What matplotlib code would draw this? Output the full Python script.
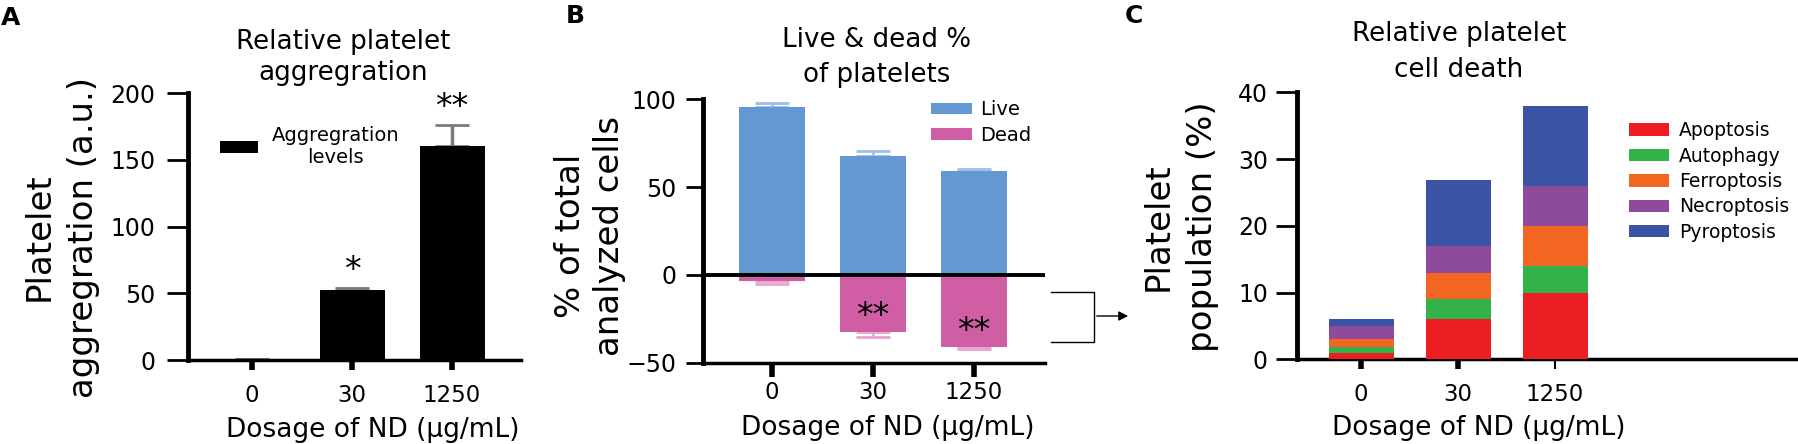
import numpy as np
import matplotlib
matplotlib.use("Agg")
import matplotlib.pyplot as plt
from matplotlib.lines import Line2D
from matplotlib.patches import FancyArrowPatch

plt.rcParams['font.family'] = ['DejaVu Sans']

# ---- data ----
doses = ["0", "30", "1250"]

# A: relative platelet aggregation
agg_mean = [0.6, 52.5, 160.0]
agg_err = [0.0, 1.2, 16.0]

# B: live / dead percentages (dead drawn as negative)
live_mean = [95.8, 67.7, 59.4]
live_err = [1.9, 2.9, 0.8]
dead_mean = [-3.2, -32.3, -40.8]
dead_err = [2.1, 3.2, 1.5]

# C: cell death types (stacked)
death_types = ["Apoptosis", "Autophagy", "Ferroptosis", "Necroptosis", "Pyroptosis"]
apoptosis = [0.9, 6.0, 10.0]
autophagy = [0.9, 3.0, 4.0]
ferroptosis = [1.2, 4.0, 6.0]
necroptosis = [2.0, 3.9, 6.0]
pyroptosis = [1.0, 10.0, 12.0]

death_colors = ["#EC1E24", "#33B24A", "#F26622", "#8E4B9B", "#3A53A4"]
live_color = "#6498D2"
dead_color = "#D05EA4"

W, H = 1799, 444
fig = plt.figure(figsize=(W / 100, H / 100), dpi=100)


def px(x, y):
    # pixel position (from top-left) -> figure fraction
    return x / W, 1 - y / H


def add_axes(left, right, top, bottom):
    return fig.add_axes([left / W, 1 - bottom / H, (right - left) / W, (bottom - top) / H])


def style(ax, ylen, ypad, xlen, xpad):
    ax.spines['top'].set_visible(False)
    ax.spines['right'].set_visible(False)
    ax.spines['left'].set_linewidth(3.5)
    ax.spines['bottom'].set_linewidth(2.5)
    ax.tick_params(axis='y', length=ylen, width=2, pad=ypad, labelsize=17)
    ax.tick_params(axis='x', length=xlen, width=4, pad=xpad, labelsize=16.5)


x = np.arange(len(doses))
fs_title = 18.8
fs_ylab = 24.5
fs_xlab = 19
fs_leg = 14

# ---------------- panel A ----------------
axA = add_axes(188, 521, 93, 360)
axA.bar(x, agg_mean, width=0.65, color="black", label="Aggregration\nlevels", zorder=3)
axA.errorbar(x, agg_mean, yerr=[np.zeros(3), agg_err], fmt='none', ecolor="#7a7a7a",
             elinewidth=2.5, capsize=12, capthick=2, zorder=2)
axA.set_xlim(-0.64, 2.69)
axA.set_ylim(0, 200)
axA.set_yticks([0, 50, 100, 150, 200])
axA.set_xticks(x)
axA.set_xticklabels(doses)
style(axA, 15, 8.5, 7, 10)
axA.text(1, agg_mean[1] + agg_err[1] + 13, "*", ha='center', va='center', fontsize=24)
axA.text(2, agg_mean[2] + agg_err[2] + 13, "**", ha='center', va='center', fontsize=24)
legA = axA.legend(loc='center left', bbox_to_anchor=(0.096, 0.80), frameon=False,
                  fontsize=fs_leg, handlelength=1.95, handleheight=0.6, handletextpad=0.7,
                  borderpad=0, borderaxespad=0)
for t in legA.get_texts():
    t.set_multialignment('center')
axA.set_xlabel("Dosage of ND (μg/mL)", fontsize=fs_xlab)
axA.xaxis.set_label_coords(0.554, -0.213)

# ---------------- panel B ----------------
axB = add_axes(703, 1045, 99.3, 362.7)
axB.bar(x, live_mean, width=0.66, color=live_color, label="Live", zorder=3)
axB.bar(x, dead_mean, width=0.66, color=dead_color, label="Dead", zorder=3)
axB.errorbar(x, live_mean, yerr=[np.zeros(3), live_err], fmt='none', ecolor="#9EBFE6",
             elinewidth=2, capsize=12, capthick=2, zorder=2)
axB.errorbar(x, dead_mean, yerr=[dead_err, np.zeros(3)], fmt='none', ecolor="#E6A6CF",
             elinewidth=2, capsize=12, capthick=2, zorder=2)
axB.axhline(0, color="black", lw=2.8, zorder=4)
axB.set_xlim(-0.683, 2.703)
axB.set_ylim(-50, 100)
axB.set_yticks([-50, 0, 50, 100])
axB.set_xticks(x)
axB.set_xticklabels(doses)
style(axB, 12, 7, 10, 3.5)
for i in [1, 2]:
    axB.text(i, dead_mean[i] + 8.5, "**", ha='center', va='center', fontsize=24, zorder=5)
axB.legend(loc='center left', bbox_to_anchor=(0.667, 0.912), frameon=False,
           fontsize=fs_leg, handlelength=2.1, handleheight=0.55, handletextpad=0.4,
           labelspacing=0.33, borderpad=0, borderaxespad=0)
axB.set_xlabel("Dosage of ND (μg/mL)", fontsize=fs_xlab)
axB.xaxis.set_label_coords(0.541, -0.198)

# ---------------- panel C ----------------
axC = add_axes(1297, 1799, 92.3, 359.3)
layers = [apoptosis, autophagy, ferroptosis, necroptosis, pyroptosis]
bottom = np.zeros(3)
for name, vals, col in zip(death_types, layers, death_colors):
    axC.bar(x, vals, bottom=bottom, width=0.67, color=col, label=name, zorder=3)
    bottom = bottom + np.array(vals)
axC.set_xlim(-0.66, 4.515)
axC.set_ylim(0, 40)
axC.set_yticks([0, 10, 20, 30, 40])
axC.set_xticks(x)
axC.set_xticklabels(doses)
style(axC, 15, 6, 7, 10)
axC.xaxis.get_major_ticks()[2].tick1line.set_markeredgewidth(1.5)
axC.legend(loc='center left', bbox_to_anchor=(0.661, 0.666), frameon=False,
           fontsize=fs_leg - 0.5, handlelength=2.13, handleheight=0.65, handletextpad=0.53,
           labelspacing=0.34, borderpad=0, borderaxespad=0)
axC.set_xlabel("Dosage of ND (μg/mL)", fontsize=fs_xlab)
axC.xaxis.set_label_coords(0.3625, -0.208)

# ---------------- titles, y labels, panel letters ----------------
# (text, centre x, baseline of last line, line spacing)
titles = [("Relative platelet\naggregration", 343, 80, 1.27),
          ("Live & dead %\nof platelets", 877, 82, 1.45),
          ("Relative platelet\ncell death", 1459, 77, 1.5)]
for txt, tx, ty, ls in titles:
    fig.text(*px(tx, ty), txt, ha='center', va='baseline', fontsize=fs_title,
             linespacing=ls, multialignment='center')

ylabels = [("Platelet\naggregration (a.u.)", 61, 237, 1.45),
           ("% of total\nanalyzed cells", 590, 236, 1.26),
           ("Platelet\npopulation (%)", 1180, 227, 1.45)]
for txt, tx, ty, ls in ylabels:
    fig.text(*px(tx, ty), txt, ha='center', va='center', rotation=90, fontsize=fs_ylab,
             linespacing=ls, multialignment='center')

for letter, lx, ly in [("A", 1, 25), ("B", 566, 23), ("C", 1125, 23)]:
    fig.text(*px(lx, ly), letter, ha='left', va='baseline', fontsize=18, fontweight='bold')

# bracket + arrow linking B dead fraction to C
bx = [1051, 1094, 1094, 1051]
by = [292, 292, 342, 342]
fig.add_artist(Line2D([b / W for b in bx], [1 - b / H for b in by], color="black", lw=1.0,
                      transform=fig.transFigure))
fig.add_artist(FancyArrowPatch(px(1094, 316), px(1131, 316), transform=fig.transFigure,
                               arrowstyle='-|>', mutation_scale=14, color="black", lw=1.0))

fig.savefig("out.png", dpi=100)
